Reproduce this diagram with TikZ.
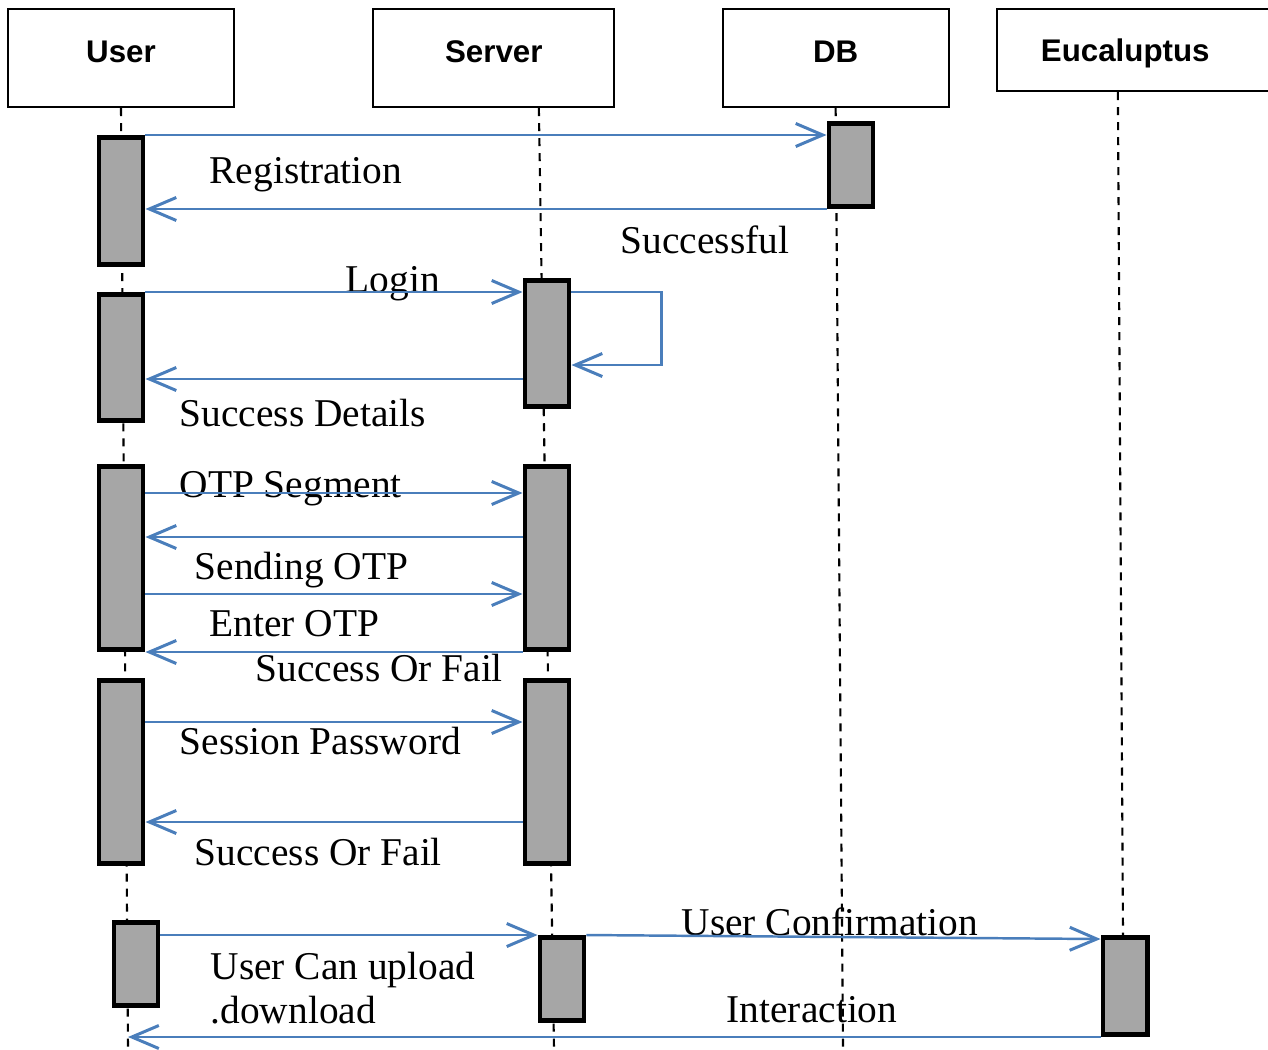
\documentclass[tikz,border=0pt]{standalone}
\usepackage{fontspec}
\setmainfont{Liberation Serif}
\setsansfont{Liberation Sans}
\usepackage{tikz}
\usetikzlibrary{positioning,arrows.meta}
\usepackage{xcolor}
\definecolor{msgblue}{HTML}{4A7EBB}
\definecolor{actgray}{HTML}{A6A6A6}

\begin{document}
\begin{tikzpicture}[x=0.01cm,y=-0.01cm,
  head/.style={draw,line width=0.6pt,inner sep=0,minimum height=0.98cm,
    font=\sffamily\bfseries\fontsize{8.9}{10.7}\selectfont,
    text height=0.25cm,text depth=0.164cm},
  act/.style={draw,line width=1.4pt,fill=actgray,inner sep=0,
    minimum width=0.44cm},
  life/.style={line width=0.6pt,dash pattern=on 0.08cm off 0.07cm},
  msg/.style={draw=msgblue,line width=0.7pt,
    -{Straight Barb[length=0.27cm,width=0.23cm,line width=0.85pt]}},
  txt/.style={anchor=base west,inner sep=0,
    font=\fontsize{11.2}{13.4}\selectfont}]
\useasboundingbox (0,0) rectangle (1268,1049);
\path
  (121,58) node [head,minimum width=2.26cm] (user) {User}
  node [head,minimum width=2.41cm,right=1.37cm of user] (server) {Server}
  node [head,minimum width=2.26cm,right=1.06cm of server] (db) {DB}
  node [head,right=0.46cm of db.north east,anchor=north west,
    minimum height=0.82cm,text depth=0.01cm,text width=2.3cm,align=left,
    inner xsep=0.44cm] (euc) {Eucaluptus};

\coordinate (ubot) at (128,1049);
\coordinate (sbot) at (554,1049);
\coordinate (dbot) at (843,1049);
\coordinate (ebot) at (1123,936);
\draw[life] (user.south) -- (ubot);
\draw[life] ([xshift=0.45cm]server.south) -- (sbot);
\draw[life] (db.south) -- (dbot);
\draw[life] ([xshift=1.22cm]euc.south west) -- (ebot);

\path
  (121,201) node [act,minimum height=1.27cm] (u1) {}
  (121,357.5) node [act,minimum height=1.26cm] (u2) {}
  (121,558) node [act,minimum height=1.83cm] (u3) {}
  (121,772) node [act,minimum height=1.83cm] (u4) {}
  (136,964) node [act,minimum height=0.83cm] (u5) {}
  (851,165) node [act,minimum height=0.83cm] (d1) {}
  (547,343.5) node [act,minimum height=1.26cm] (s1) {}
  (547,558) node [act,minimum height=1.83cm] (s2) {}
  (547,772) node [act,minimum height=1.83cm] (s3) {}
  (562,979) node [act,minimum height=0.83cm] (s4) {}
  (1125,986) node [act,minimum height=0.97cm] (e1) {};

\node[txt] (reg) at (209,184) {Registration};
\node[txt] (succ) at (620,254) {Successful};
\node[txt] (login) at (345,292) {Login};
\node[txt] (det) at (179,426) {Success Details};
\node[txt] (seg) at (179,497) {OTP Segment};
\node[txt] (send) at (194,579) {Sending OTP};
\node[txt] (enter) at (209,636) {Enter OTP};
\node[txt] (res1) at (255,681) {Success Or Fail};
\node[txt] (pwd) at (179,754) {Session Password};
\node[txt] (res2) at (194,865) {Success Or Fail};
\node[txt] (upl) at (210,979) {User Can upload};
\node[txt] (dwn) at (210,1023) {.download};
\node[txt] (conf) at (681,935) {User Confirmation};
\node[txt] (inter) at (726,1022) {Interaction};

\draw[msg] (u1.north east) -- (u1.north east -| d1.west);
\draw[msg] (d1.south west) -- (d1.south west -| u1.east);
\draw[msg] (u2.north east) -- (u2.north east -| s1.west);
\draw[msg] (s1.east |- u2.north) -- ++(90,0) |- ([yshift=-0.215cm]s1.east);
\draw[msg] (s1.west |- 0,379) -- (u2.east |- 0,379);
\draw[msg] (u3.east |- 0,493) -- (s2.west |- 0,493);
\draw[msg] (s2.west |- 0,537) -- (u3.east |- 0,537);
\draw[msg] (u3.east |- 0,594) -- (s2.west |- 0,594);
\draw[msg] (s2.south west) -- (u3.south east);
\draw[msg] (u4.east |- 0,722) -- (s3.west |- 0,722);
\draw[msg] (s3.west |- 0,822) -- (u4.east |- 0,822);
\draw[msg] (u5.east |- s4.north) -- (s4.north west);
\draw[msg] (s4.north east) -- ([yshift=-0.04cm]e1.north west);
\draw[msg] (e1.south west) -- (e1.south west -| ubot);
\end{tikzpicture}
\end{document}
